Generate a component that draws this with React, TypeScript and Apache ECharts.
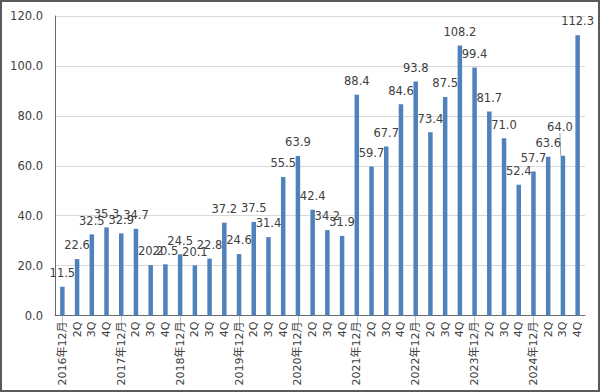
import React, { useEffect, useRef } from "react";
import * as echarts from "echarts";

const years = ["2016", "2017", "2018", "2019", "2020", "2021", "2022", "2023", "2024"];
const quarters = ["12月", "2Q", "3Q", "4Q"];
const categories: string[] = years.flatMap((y) =>
  quarters.map((q) => (q === "12月" ? `${y}年12月` : q))
);
const values = [
  11.5, 22.6, 32.5, 35.3,
  32.9, 34.7, 20.2, 20.5,
  24.5, 20.1, 22.8, 37.2,
  24.6, 37.5, 31.4, 55.5,
  63.9, 42.4, 34.2, 31.9,
  88.4, 59.7, 67.7, 84.6,
  93.8, 73.4, 87.5, 108.2,
  99.4, 81.7, 71.0, 52.4,
  57.7, 63.6, 64.0, 112.3,
];
const yTicks = { min: 0, max: 120, interval: 20 };
const movedLabelIndex = 34;

const FONT = "'DejaVu Sans', 'Noto Sans CJK JP', sans-serif";
const TEXT = "#404040";

export default function App() {
  const ref = useRef<HTMLDivElement>(null);
  useEffect(() => {
    document.body.style.margin = "0";
    if (!ref.current) return;
    const chart = echarts.init(ref.current, undefined, { renderer: "svg" });
    const data = values.map((v, i) =>
      i === movedLabelIndex ? { value: v } : { value: v, labelLine: { show: false } }
    );
    chart.setOption({
      animation: false,
      backgroundColor: "#ffffff",
      textStyle: { fontFamily: FONT },
      graphic: [
        {
          type: "rect",
          shape: { x: 1, y: 1, width: 598, height: 390 },
          style: { fill: "none", stroke: "#5a5a5a", lineWidth: 2 },
          silent: true,
        },
      ],
      grid: { left: 55, right: 15, top: 16, bottom: 76.5, containLabel: false },
      xAxis: {
        type: "category",
        data: categories,
        axisLine: { show: true, lineStyle: { color: "#6b6b6b", width: 1 } },
        axisTick: {
          show: true,
          alignWithLabel: true,
          interval: (i: number) => i % 4 === 0,
          length: 9,
          lineStyle: { color: "#808080", type: "dotted" },
        },
        axisLabel: {
          rotate: 90,
          interval: 0,
          margin: 6,
          fontSize: 11,
          color: TEXT,
          fontFamily: FONT,
        },
      },
      yAxis: {
        type: "value",
        min: yTicks.min,
        max: yTicks.max,
        interval: yTicks.interval,
        axisLine: { show: true, lineStyle: { color: "#6b6b6b", width: 1 } },
        axisTick: { show: false },
        splitLine: { show: true, lineStyle: { color: "#d9d9d9", width: 1 } },
        axisLabel: {
          margin: 12,
          fontSize: 11.5,
          color: TEXT,
          fontFamily: FONT,
          formatter: (v: number) => v.toFixed(1),
        },
      },
      series: [
        {
          type: "bar",
          data,
          barWidth: 4.5,
          itemStyle: { color: "#4f81bd" },
          label: {
            show: true,
            position: "top",
            distance: 8,
            fontSize: 11.5,
            color: TEXT,
            fontFamily: FONT,
            formatter: (p: any) => Number(p.value).toFixed(1),
          },
          labelLine: { show: true, lineStyle: { color: "#a6a6a6", width: 1 } },
          labelLayout: (params: any) => {
            if (params.dataIndex === movedLabelIndex) return { dx: -3, dy: -15 };
            return {};
          },
        },
      ],
    });
    return () => chart.dispose();
  }, []);
  return <div ref={ref} style={{ width: 600, height: 392 }} />;
}
